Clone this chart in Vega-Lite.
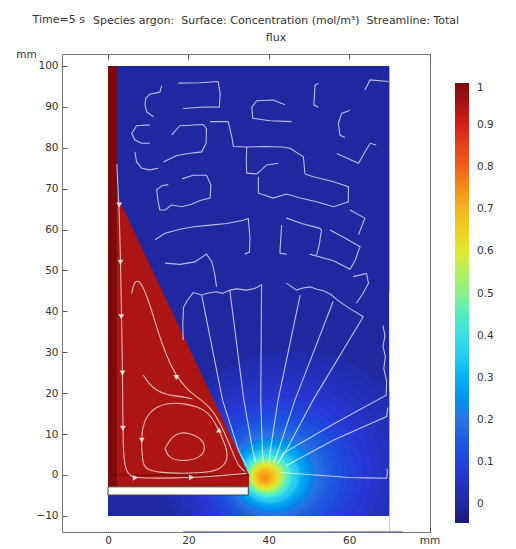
{
"$schema":"https://vega.github.io/schema/vega-lite/v6.json",
"width":368,"height":478,
"autosize":{"type":"none"},
"padding":{"left":62,"top":54,"right":86,"bottom":17},
"background":"white",
"title":{"text":["Species argon:\u00a0 Surface: Concentration (mol/m³)\u00a0 Streamline: Total","flux"],"frame":"group","anchor":"middle","dx":30,"offset":-30,"font":"DejaVu Sans","fontSize":11,"fontWeight":"normal","color":"#333333","lineHeight":17},
"config":{
 "view":{"stroke":"#777777","strokeWidth":1},
 "font":"DejaVu Sans",
 "axis":{"zindex":1,"grid":false,"domain":false,"ticks":true,"tickColor":"#555555","tickSize":5,"tickWidth":1,"offset":-5,"labelFont":"DejaVu Sans","labelFontSize":10.5,"labelColor":"#333333","titleFont":"DejaVu Sans","titleFontSize":10.5,"titleFontWeight":"normal","titleColor":"#333333","labelFlush":false}
},
"resolve":{"axis":{"x":"independent","y":"independent"}},
"datasets":{
 "bg":[{"x0":0,"x1":70,"y0":-10,"y1":100,"c":0}],
 "tri":[{"x":0,"y":73.0,"y2":-2.9,"c":0.945},{"x":35.1,"y":0,"y2":-2.9,"c":0.945}],
 "strip":[{"x0":0,"x1":2.2,"y0":-2.9,"y1":100,"c":1}],
 "rings":[
  {"r":32,"cx":46.0,"cy":1.3,"c":0.02},
  {"r":30,"cx":45.6,"cy":1.2,"c":0.03},
  {"r":28,"cx":45.1,"cy":1.1,"c":0.04},
  {"r":26,"cx":44.6,"cy":1.0,"c":0.05},
  {"r":24,"cx":44.2,"cy":0.8,"c":0.062},
  {"r":22,"cx":43.7,"cy":0.7,"c":0.074},
  {"r":20,"cx":43.3,"cy":0.6,"c":0.088},
  {"r":18.5,"cx":42.9,"cy":0.5,"c":0.1},
  {"r":17,"cx":42.6,"cy":0.4,"c":0.112},
  {"r":15.7,"cx":42.3,"cy":0.34,"c":0.127},
  {"r":14.5,"cx":42.0,"cy":0.27,"c":0.142},
  {"r":13.5,"cx":41.8,"cy":0.21,"c":0.158},
  {"r":12.5,"cx":41.6,"cy":0.15,"c":0.175},
  {"r":11.7,"cx":41.4,"cy":0.1,"c":0.19},
  {"r":11,"cx":41.2,"cy":0.06,"c":0.205},
  {"r":10.2,"cx":41.0,"cy":0.01,"c":0.225},
  {"r":9.5,"cx":40.8,"cy":-0.03,"c":0.245},
  {"r":8.9,"cx":40.7,"cy":-0.07,"c":0.265},
  {"r":8.3,"cx":40.5,"cy":-0.1,"c":0.285},
  {"r":7.7,"cx":40.3,"cy":-0.14,"c":0.31},
  {"r":7.2,"cx":40.2,"cy":-0.17,"c":0.335},
  {"r":6.7,"cx":40.0,"cy":-0.2,"c":0.36},
  {"r":6.2,"cx":39.9,"cy":-0.23,"c":0.39},
  {"r":5.7,"cx":39.8,"cy":-0.26,"c":0.42},
  {"r":5.3,"cx":39.7,"cy":-0.28,"c":0.45},
  {"r":4.9,"cx":39.6,"cy":-0.31,"c":0.48},
  {"r":4.5,"cx":39.5,"cy":-0.33,"c":0.51},
  {"r":4.1,"cx":39.4,"cy":-0.35,"c":0.54},
  {"r":3.8,"cx":39.3,"cy":-0.37,"c":0.57},
  {"r":3.4,"cx":39.3,"cy":-0.4,"c":0.6},
  {"r":3.1,"cx":39.2,"cy":-0.41,"c":0.62},
  {"r":2.8,"cx":39.2,"cy":-0.43,"c":0.64},
  {"r":2.5,"cx":39.1,"cy":-0.45,"c":0.66},
  {"r":2.2,"cx":39.1,"cy":-0.47,"c":0.68},
  {"r":1.9,"cx":39.0,"cy":-0.49,"c":0.7},
  {"r":1.6,"cx":39.0,"cy":-0.5,"c":0.71},
  {"r":1.3,"cx":38.9,"cy":-0.52,"c":0.72},
  {"r":1.0,"cx":38.9,"cy":-0.54,"c":0.73},
  {"r":0.7,"cx":38.8,"cy":-0.56,"c":0.74}
 ],
 "hole":[{"x0":0,"x1":34.9,"y0":-4.9,"y1":-2.9}],
 "mask":[{"x0":0,"x1":70,"y0":-13.8,"y1":-10},{"x0":70,"x1":79.9,"y0":-13.8,"y1":45}],
 "bl":[{"x":0,"x2":35.1,"y":0}],
 "arr":[
  {"x":2.8,"y":66,"d":"down"},{"x":3.1,"y":52,"d":"down"},{"x":3.3,"y":38.7,"d":"down"},{"x":3.6,"y":24.9,"d":"down"},{"x":3.7,"y":11.4,"d":"down"},
  {"x":6.8,"y":-0.7,"d":"right"},{"x":20.8,"y":-0.6,"d":"right"},{"x":8.4,"y":8.5,"d":"down"},{"x":27.6,"y":11,"d":"up"},{"x":17,"y":23.8,"d":"down"}
 ],
 "sl":[
  {"id":"s1","s":1,"k":1,"x":2.2,"y":76},{"id":"s1","s":1,"k":2,"x":2.5,"y":70},{"id":"s1","s":1,"k":3,"x":2.8,"y":64},{"id":"s1","s":1,"k":4,"x":3.0,"y":57},{"id":"s1","s":1,"k":5,"x":3.2,"y":48},{"id":"s1","s":1,"k":6,"x":3.4,"y":38},{"id":"s1","s":1,"k":7,"x":3.6,"y":25},{"id":"s1","s":1,"k":8,"x":3.7,"y":14},{"id":"s1","s":1,"k":9,"x":3.8,"y":6},{"id":"s1","s":1,"k":10,"x":4.2,"y":2},{"id":"s1","s":1,"k":11,"x":5.2,"y":-0.1},{"id":"s1","s":1,"k":12,"x":7,"y":-0.7},{"id":"s1","s":1,"k":13,"x":12,"y":-0.8},{"id":"s1","s":1,"k":14,"x":17,"y":-0.7},{"id":"s1","s":1,"k":15,"x":21,"y":-0.6},{"id":"s1","s":1,"k":16,"x":26,"y":-0.3},{"id":"s1","s":1,"k":17,"x":30,"y":0},{"id":"s1","s":1,"k":18,"x":34.5,"y":0.4},
  {"id":"l1","s":1,"k":1,"x":14.2,"y":6.5},{"id":"l1","s":1,"k":2,"x":15.8,"y":9.4},{"id":"l1","s":1,"k":3,"x":18,"y":10.4},{"id":"l1","s":1,"k":4,"x":20,"y":10.3},{"id":"l1","s":1,"k":5,"x":23.3,"y":9.0},{"id":"l1","s":1,"k":6,"x":24.4,"y":6.5},{"id":"l1","s":1,"k":7,"x":22.9,"y":4.1},{"id":"l1","s":1,"k":8,"x":18.7,"y":3.3},{"id":"l1","s":1,"k":9,"x":15.0,"y":4.1},{"id":"l1","s":1,"k":10,"x":14.2,"y":6.5},
  {"id":"l2","s":1,"k":1,"x":8.4,"y":6.9},{"id":"l2","s":1,"k":2,"x":8.4,"y":11.8},{"id":"l2","s":1,"k":3,"x":10.4,"y":15.9},{"id":"l2","s":1,"k":4,"x":14.6,"y":17.7},{"id":"l2","s":1,"k":5,"x":19.6,"y":17.5},{"id":"l2","s":1,"k":6,"x":24.5,"y":15.9},{"id":"l2","s":1,"k":7,"x":26.6,"y":13.0},{"id":"l2","s":1,"k":8,"x":29.5,"y":6.9},{"id":"l2","s":1,"k":9,"x":29.9,"y":3.7},{"id":"l2","s":1,"k":10,"x":27.9,"y":1.2},{"id":"l2","s":1,"k":11,"x":22.9,"y":0.4},{"id":"l2","s":1,"k":12,"x":14.6,"y":0.4},{"id":"l2","s":1,"k":13,"x":9.6,"y":1.1},{"id":"l2","s":1,"k":14,"x":8.6,"y":2.9},{"id":"l2","s":1,"k":15,"x":8.4,"y":6.9},
  {"id":"l3","s":1,"k":1,"x":5.9,"y":44.4},{"id":"l3","s":1,"k":2,"x":6.4,"y":47},{"id":"l3","s":1,"k":3,"x":7.6,"y":47.8},{"id":"l3","s":1,"k":4,"x":9,"y":45.5},{"id":"l3","s":1,"k":5,"x":10.8,"y":40.5},{"id":"l3","s":1,"k":6,"x":12.6,"y":34.5},{"id":"l3","s":1,"k":7,"x":14.6,"y":29},{"id":"l3","s":1,"k":8,"x":16.8,"y":24.5},{"id":"l3","s":1,"k":9,"x":19.5,"y":21},{"id":"l3","s":1,"k":10,"x":22.8,"y":18.6},{"id":"l3","s":1,"k":11,"x":25.8,"y":16.2},{"id":"l3","s":1,"k":12,"x":28,"y":12.5},{"id":"l3","s":1,"k":13,"x":30,"y":8},{"id":"l3","s":1,"k":14,"x":31.4,"y":4.5},{"id":"l3","s":1,"k":15,"x":32.6,"y":2},{"id":"l3","s":1,"k":16,"x":34,"y":0.9},
  {"id":"l4","s":1,"k":1,"x":8.8,"y":24.4},{"id":"l4","s":1,"k":2,"x":10,"y":22.6},{"id":"l4","s":1,"k":3,"x":11.8,"y":20.8},{"id":"l4","s":1,"k":4,"x":14.5,"y":19.6},{"id":"l4","s":1,"k":5,"x":18,"y":19.2},{"id":"l4","s":1,"k":6,"x":21,"y":18.6},
  {"id":"f1","s":0,"k":1,"x":23.3,"y":44.0},{"id":"f1","s":0,"k":2,"x":28.5,"y":18.3},{"id":"f1","s":0,"k":3,"x":32.5,"y":6},{"id":"f1","s":0,"k":4,"x":34.5,"y":2.2},
  {"id":"f2","s":0,"k":1,"x":30.3,"y":45.2},{"id":"f2","s":0,"k":2,"x":33.8,"y":18.3},{"id":"f2","s":0,"k":3,"x":36,"y":6},{"id":"f2","s":0,"k":4,"x":36.8,"y":3},
  {"id":"f3","s":0,"k":1,"x":38.2,"y":46.5},{"id":"f3","s":0,"k":2,"x":38.0,"y":18.3},{"id":"f3","s":0,"k":3,"x":38.4,"y":6},{"id":"f3","s":0,"k":4,"x":38.6,"y":3},
  {"id":"f4","s":0,"k":1,"x":47.8,"y":44.0},{"id":"f4","s":0,"k":2,"x":42.3,"y":18.3},{"id":"f4","s":0,"k":3,"x":40.4,"y":6},{"id":"f4","s":0,"k":4,"x":40,"y":3},
  {"id":"f5","s":0,"k":1,"x":56.0,"y":42.4},{"id":"f5","s":0,"k":2,"x":46.5,"y":18.3},{"id":"f5","s":0,"k":3,"x":42.4,"y":6},{"id":"f5","s":0,"k":4,"x":41.2,"y":3},
  {"id":"f6","s":0,"k":1,"x":63.5,"y":38.7},{"id":"f6","s":0,"k":2,"x":51.0,"y":18.3},{"id":"f6","s":0,"k":3,"x":44.3,"y":6},{"id":"f6","s":0,"k":4,"x":42.2,"y":2.8},
  {"id":"f7","s":0,"k":1,"x":68.4,"y":36.5},{"id":"f7","s":0,"k":2,"x":68.9,"y":34},{"id":"f7","s":0,"k":3,"x":68.4,"y":31.5},{"id":"f7","s":0,"k":4,"x":69,"y":29},{"id":"f7","s":0,"k":5,"x":68.6,"y":26},{"id":"f7","s":0,"k":6,"x":69.3,"y":23},{"id":"f7","s":0,"k":7,"x":69.2,"y":19.5},{"id":"f7","s":0,"k":8,"x":56,"y":12.4},{"id":"f7","s":0,"k":9,"x":43.6,"y":5.3},{"id":"f7","s":0,"k":10,"x":42.8,"y":3.6},
  {"id":"f8","s":0,"k":1,"x":44.2,"y":2.2},{"id":"f8","s":0,"k":2,"x":56,"y":8.5},{"id":"f8","s":0,"k":3,"x":69.3,"y":14.3},{"id":"f8","s":0,"k":4,"x":69.6,"y":16.5},
  {"id":"f9","s":0,"k":1,"x":42.8,"y":0.6},{"id":"f9","s":0,"k":2,"x":47,"y":0.3},{"id":"f9","s":0,"k":3,"x":51.5,"y":0},{"id":"f9","s":0,"k":4,"x":56,"y":-0.3},{"id":"f9","s":0,"k":5,"x":59.8,"y":-0.6},{"id":"f9","s":0,"k":6,"x":64.5,"y":-0.7},{"id":"f9","s":0,"k":7,"x":69.3,"y":-0.8},{"id":"f9","s":0,"k":8,"x":69.5,"y":0.5},{"id":"f9","s":0,"k":9,"x":69.4,"y":1.6},
  {"id":"c1","s":0,"k":1,"x":18.7,"y":33.0},{"id":"c1","s":0,"k":2,"x":18.6,"y":37},{"id":"c1","s":0,"k":3,"x":18.8,"y":41},{"id":"c1","s":0,"k":4,"x":19.8,"y":42.8},{"id":"c1","s":0,"k":5,"x":21.2,"y":44.6},{"id":"c1","s":0,"k":6,"x":23.3,"y":44.0},{"id":"c1","s":0,"k":7,"x":25,"y":44.5},{"id":"c1","s":0,"k":8,"x":27,"y":44.8},{"id":"c1","s":0,"k":9,"x":28.5,"y":44.4},{"id":"c1","s":0,"k":10,"x":30.3,"y":45.2},{"id":"c1","s":0,"k":11,"x":32,"y":45.5},{"id":"c1","s":0,"k":12,"x":34.5,"y":45.2},{"id":"c1","s":0,"k":13,"x":36.5,"y":45.6},{"id":"c1","s":0,"k":14,"x":38.2,"y":46.5},
  {"id":"c2","s":0,"k":1,"x":44.4,"y":46.9},{"id":"c2","s":0,"k":2,"x":46.9,"y":45.2},{"id":"c2","s":0,"k":3,"x":48.5,"y":45.7},{"id":"c2","s":0,"k":4,"x":50.2,"y":46.0},{"id":"c2","s":0,"k":5,"x":52,"y":45.4},{"id":"c2","s":0,"k":6,"x":53.8,"y":45.0},{"id":"c2","s":0,"k":7,"x":55.6,"y":44.0},{"id":"c2","s":0,"k":8,"x":57,"y":42.8},{"id":"c2","s":0,"k":9,"x":60,"y":40.8},{"id":"c2","s":0,"k":10,"x":63.5,"y":38.7},
  {"id":"n1","s":0,"k":1,"x":14.2,"y":51.8},{"id":"n1","s":0,"k":2,"x":17.9,"y":51.5},{"id":"n1","s":0,"k":3,"x":21.6,"y":52.1},{"id":"n1","s":0,"k":4,"x":24.5,"y":54.0},{"id":"n1","s":0,"k":5,"x":25.8,"y":52.2},{"id":"n1","s":0,"k":6,"x":26.6,"y":48.9},{"id":"n1","s":0,"k":7,"x":27.0,"y":46.0},
  {"id":"u8","s":0,"k":1,"x":11.7,"y":57.5},{"id":"u8","s":0,"k":2,"x":14.2,"y":59.1},{"id":"u8","s":0,"k":3,"x":17.9,"y":60.1},{"id":"u8","s":0,"k":4,"x":21.2,"y":60.7},{"id":"u8","s":0,"k":5,"x":25.4,"y":61.1},{"id":"u8","s":0,"k":6,"x":29.5,"y":61.5},{"id":"u8","s":0,"k":7,"x":33.7,"y":62.3},{"id":"u8","s":0,"k":8,"x":34.9,"y":62.7},{"id":"u8","s":0,"k":9,"x":35.3,"y":58},{"id":"u8","s":0,"k":10,"x":35.2,"y":54.5},{"id":"u8","s":0,"k":11,"x":34,"y":54},
  {"id":"n2","s":0,"k":1,"x":43.2,"y":61.1},{"id":"n2","s":0,"k":2,"x":42.8,"y":55},{"id":"n2","s":0,"k":3,"x":42.8,"y":54.2},{"id":"n2","s":0,"k":4,"x":44.4,"y":54.0},
  {"id":"n3","s":0,"k":1,"x":44.4,"y":62.8},{"id":"n3","s":0,"k":2,"x":48.2,"y":61.5},{"id":"n3","s":0,"k":3,"x":52.7,"y":60.3},{"id":"n3","s":0,"k":4,"x":53.1,"y":59.9},{"id":"n3","s":0,"k":5,"x":52.5,"y":56},{"id":"n3","s":0,"k":6,"x":51.9,"y":53.8},
  {"id":"n4","s":0,"k":1,"x":55.2,"y":59.9},{"id":"n4","s":0,"k":2,"x":58.5,"y":58.2},{"id":"n4","s":0,"k":3,"x":62.7,"y":55.8},{"id":"n4","s":0,"k":4,"x":62.3,"y":54.8},{"id":"n4","s":0,"k":5,"x":61.5,"y":52.5},{"id":"n4","s":0,"k":6,"x":60.2,"y":50.3},{"id":"n4","s":0,"k":7,"x":56.1,"y":52.4},{"id":"n4","s":0,"k":8,"x":50.2,"y":54.0},
  {"id":"n5","s":0,"k":1,"x":60.2,"y":64.8},{"id":"n5","s":0,"k":2,"x":63.9,"y":62.8},{"id":"n5","s":0,"k":3,"x":62.3,"y":58.7},
  {"id":"n6","s":0,"k":1,"x":61,"y":48.5},{"id":"n6","s":0,"k":2,"x":64.3,"y":49.3},{"id":"n6","s":0,"k":3,"x":64.8,"y":46.9},{"id":"n6","s":0,"k":4,"x":63.5,"y":44.5},{"id":"n6","s":0,"k":5,"x":61.8,"y":42.0},
  {"id":"u1","s":0,"k":1,"x":13.4,"y":95.2},{"id":"u1","s":0,"k":2,"x":12.9,"y":93.6},{"id":"u1","s":0,"k":3,"x":10.4,"y":93.1},{"id":"u1","s":0,"k":4,"x":9.4,"y":92.1},{"id":"u1","s":0,"k":5,"x":9.2,"y":90.5},{"id":"u1","s":0,"k":6,"x":9.6,"y":88.8},{"id":"u1","s":0,"k":7,"x":11.3,"y":87.6},
  {"id":"u2","s":0,"k":1,"x":17.5,"y":95.8},{"id":"u2","s":0,"k":2,"x":22.9,"y":95.9},{"id":"u2","s":0,"k":3,"x":27.4,"y":96.2},{"id":"u2","s":0,"k":4,"x":27.9,"y":93.3},{"id":"u2","s":0,"k":5,"x":27.7,"y":90.0},{"id":"u2","s":0,"k":6,"x":22.9,"y":89.9},{"id":"u2","s":0,"k":7,"x":18.7,"y":89.6},
  {"id":"u3","s":0,"k":1,"x":10.4,"y":85.6},{"id":"u3","s":0,"k":2,"x":7.1,"y":85.4},{"id":"u3","s":0,"k":3,"x":5.9,"y":83.5},{"id":"u3","s":0,"k":4,"x":6.7,"y":81.9},{"id":"u3","s":0,"k":5,"x":8.4,"y":81.1},{"id":"u3","s":0,"k":6,"x":10.4,"y":81.1},
  {"id":"u4","s":0,"k":1,"x":15.8,"y":83.1},{"id":"u4","s":0,"k":2,"x":17.9,"y":85.4},{"id":"u4","s":0,"k":3,"x":23.7,"y":85.7},{"id":"u4","s":0,"k":4,"x":24.5,"y":84.6},{"id":"u4","s":0,"k":5,"x":24.4,"y":81.1},{"id":"u4","s":0,"k":6,"x":23.3,"y":79.0},{"id":"u4","s":0,"k":7,"x":20.0,"y":78.6},{"id":"u4","s":0,"k":8,"x":17.1,"y":78.1},{"id":"u4","s":0,"k":9,"x":13.8,"y":76.5},
  {"id":"u5","s":0,"k":1,"x":6.7,"y":79.0},{"id":"u5","s":0,"k":2,"x":7.1,"y":76.6},{"id":"u5","s":0,"k":3,"x":8.4,"y":75.0},{"id":"u5","s":0,"k":4,"x":10.4,"y":74.6},{"id":"u5","s":0,"k":5,"x":12.5,"y":75.0},
  {"id":"u6","s":0,"k":1,"x":18.4,"y":72.4},{"id":"u6","s":0,"k":2,"x":21.2,"y":73.3},{"id":"u6","s":0,"k":3,"x":24.5,"y":73.3},{"id":"u6","s":0,"k":4,"x":25.6,"y":70.9},{"id":"u6","s":0,"k":5,"x":25.4,"y":67.7},{"id":"u6","s":0,"k":6,"x":22.9,"y":67.1},{"id":"u6","s":0,"k":7,"x":20.8,"y":66.2},{"id":"u6","s":0,"k":8,"x":18.3,"y":65.6},{"id":"u6","s":0,"k":9,"x":15.8,"y":66.0},{"id":"u6","s":0,"k":10,"x":14.2,"y":64.8},{"id":"u6","s":0,"k":11,"x":12.9,"y":64.8},{"id":"u6","s":0,"k":12,"x":12.5,"y":66.8},{"id":"u6","s":0,"k":13,"x":12.1,"y":69.7},{"id":"u6","s":0,"k":14,"x":13.4,"y":70.7},{"id":"u6","s":0,"k":15,"x":15.0,"y":71.0},
  {"id":"m1","s":0,"k":1,"x":25.4,"y":86.4},{"id":"m1","s":0,"k":2,"x":29.9,"y":86.4},{"id":"m1","s":0,"k":3,"x":30.8,"y":82.7},{"id":"m1","s":0,"k":4,"x":31.2,"y":80.3},{"id":"m1","s":0,"k":5,"x":34.5,"y":80.2},{"id":"m1","s":0,"k":6,"x":39,"y":80.3},{"id":"m1","s":0,"k":7,"x":43.2,"y":80.2},{"id":"m1","s":0,"k":8,"x":45.3,"y":79.9},{"id":"m1","s":0,"k":9,"x":48.6,"y":77.8},{"id":"m1","s":0,"k":10,"x":49.0,"y":73.6},{"id":"m1","s":0,"k":11,"x":51.1,"y":72.9},{"id":"m1","s":0,"k":12,"x":56.1,"y":71.7},{"id":"m1","s":0,"k":13,"x":59.8,"y":70.5},{"id":"m1","s":0,"k":14,"x":59.8,"y":66.8},{"id":"m1","s":0,"k":15,"x":56.1,"y":65.6},{"id":"m1","s":0,"k":16,"x":51.9,"y":66.8},{"id":"m1","s":0,"k":17,"x":47.8,"y":67.7},{"id":"m1","s":0,"k":18,"x":44.4,"y":68.7},{"id":"m1","s":0,"k":19,"x":41.1,"y":67.7},{"id":"m1","s":0,"k":20,"x":37.4,"y":68.9},{"id":"m1","s":0,"k":21,"x":37.4,"y":72.9},
  {"id":"m2","s":0,"k":1,"x":34.5,"y":80.2},{"id":"m2","s":0,"k":2,"x":34.4,"y":77},{"id":"m2","s":0,"k":3,"x":34.5,"y":73.8},{"id":"m2","s":0,"k":4,"x":37.0,"y":73.6},{"id":"m2","s":0,"k":5,"x":39.5,"y":75.8},{"id":"m2","s":0,"k":6,"x":42.4,"y":76.2},
  {"id":"m3","s":0,"k":1,"x":44.0,"y":90.5},{"id":"m3","s":0,"k":2,"x":41.1,"y":91.7},{"id":"m3","s":0,"k":3,"x":37.0,"y":91.5},{"id":"m3","s":0,"k":4,"x":35.8,"y":90.0},{"id":"m3","s":0,"k":5,"x":36.0,"y":87.2},{"id":"m3","s":0,"k":6,"x":40.3,"y":86.6},{"id":"m3","s":0,"k":7,"x":45.7,"y":86.4},
  {"id":"m4","s":0,"k":1,"x":52.3,"y":95.8},{"id":"m4","s":0,"k":2,"x":51.5,"y":95.3},{"id":"m4","s":0,"k":3,"x":51.2,"y":90.5},{"id":"m4","s":0,"k":4,"x":52.3,"y":89.9},
  {"id":"m5","s":0,"k":1,"x":60.2,"y":89.2},{"id":"m5","s":0,"k":2,"x":58.1,"y":88.4},{"id":"m5","s":0,"k":3,"x":57.3,"y":86.0},{"id":"m5","s":0,"k":4,"x":57.7,"y":83.1},{"id":"m5","s":0,"k":5,"x":58.9,"y":82.5},
  {"id":"m6","s":0,"k":1,"x":63.9,"y":94.1},{"id":"m6","s":0,"k":2,"x":65.2,"y":96.6},{"id":"m6","s":0,"k":3,"x":69.8,"y":96.2},
  {"id":"m7","s":0,"k":1,"x":56.9,"y":78.6},{"id":"m7","s":0,"k":2,"x":62.3,"y":76.2},{"id":"m7","s":0,"k":3,"x":65.2,"y":81.1},{"id":"m7","s":0,"k":4,"x":66.7,"y":80.7}
 ]
},
"layer":[
 {"data":{"name":"bg"},"mark":{"type":"rect"},
  "encoding":{
   "x":{"field":"x0","type":"quantitative","scale":{"domain":[-11.44,80.1],"nice":false,"zero":false},"axis":{"orient":"bottom","values":[0,20,40,60,80],"labelExpr":"datum.value == 80 ? 'mm' : datum.label","labelPadding":3,"title":null}},
   "x2":{"field":"x1"},
   "y":{"field":"y0","type":"quantitative","scale":{"domain":[-13.94,102.93],"nice":false,"zero":false},"axis":{"orient":"left","values":[-10,0,10,20,30,40,50,60,70,80,90,100],"labelPadding":4,"title":"mm","titleAngle":0,"titleX":-41,"titleY":0,"titleAlign":"center","titleBaseline":"middle"}},
   "y2":{"field":"y1"},
   "color":{"field":"c","type":"quantitative","scale":{"domain":[-0.045,0,0.08,0.2,0.33,0.42,0.5,0.6,0.7,0.8,0.9,1],"range":["#1a1a78","#1f28a0","#2837d6","#2b72e3","#33c2f2","#4be8de","#8cf08c","#e0ea30","#f6b522","#f2601c","#d41f1a","#7e0a0a"]},
    "legend":{"title":null,"orient":"none","legendX":393,"legendY":29,"direction":"vertical","gradientLength":440,"gradientThickness":14,"gradientStrokeWidth":0,"values":[0,0.1,0.2,0.3,0.4,0.5,0.6,0.7,0.8,0.9,1],"format":".1~f","labelOffset":8,"labelFontSize":10.5,"labelColor":"#333333","labelFont":"DejaVu Sans","labelBaseline":"middle","padding":0}}
  }},
 {"data":{"name":"rings"},
  "mark":{"type":"point","shape":"M-1,0A1,0.92 0 1,0 1,0A1,0.92 0 1,0 -1,0Z","filled":true,"opacity":1,"strokeWidth":0,"clip":true},
  "encoding":{
   "x":{"field":"cx","type":"quantitative","scale":{"domain":[-11.44,80.1],"nice":false,"zero":false},"axis":null},
   "y":{"field":"cy","type":"quantitative","scale":{"domain":[-13.94,102.93],"nice":false,"zero":false},"axis":null},
   "size":{"field":"r","type":"quantitative","scale":{"type":"pow","exponent":2,"domain":[0,40],"range":[0,103426]},"legend":null},
   "color":{"field":"c","type":"quantitative","scale":{"domain":[-0.045,0,0.08,0.2,0.33,0.42,0.5,0.6,0.7,0.8,0.9,1],"range":["#1a1a78","#1f28a0","#2837d6","#2b72e3","#33c2f2","#4be8de","#8cf08c","#e0ea30","#f6b522","#f2601c","#d41f1a","#7e0a0a"]},"legend":null},
   "order":{"field":"r","sort":"descending"}
  }},
 {"data":{"name":"tri"},"mark":{"type":"area","orient":"vertical","interpolate":"linear"},
  "encoding":{
   "x":{"field":"x","type":"quantitative","scale":{"domain":[-11.44,80.1],"nice":false,"zero":false},"axis":null},
   "y":{"field":"y","type":"quantitative","scale":{"domain":[-13.94,102.93],"nice":false,"zero":false},"axis":null},
   "y2":{"field":"y2"},
   "color":{"field":"c","type":"quantitative","scale":{"domain":[-0.045,0,0.08,0.2,0.33,0.42,0.5,0.6,0.7,0.8,0.9,1],"range":["#1a1a78","#1f28a0","#2837d6","#2b72e3","#33c2f2","#4be8de","#8cf08c","#e0ea30","#f6b522","#f2601c","#d41f1a","#7e0a0a"]},"legend":null}
  }},
 {"data":{"name":"strip"},"mark":{"type":"rect"},
  "encoding":{
   "x":{"field":"x0","type":"quantitative","scale":{"domain":[-11.44,80.1],"nice":false,"zero":false},"axis":null},
   "x2":{"field":"x1"},
   "y":{"field":"y0","type":"quantitative","scale":{"domain":[-13.94,102.93],"nice":false,"zero":false},"axis":null},
   "y2":{"field":"y1"},
   "color":{"field":"c","type":"quantitative","scale":{"domain":[-0.045,0,0.08,0.2,0.33,0.42,0.5,0.6,0.7,0.8,0.9,1],"range":["#1a1a78","#1f28a0","#2837d6","#2b72e3","#33c2f2","#4be8de","#8cf08c","#e0ea30","#f6b522","#f2601c","#d41f1a","#7e0a0a"]},"legend":null}
  }},
 {"data":{"name":"hole"},"mark":{"type":"rect","fill":"white","stroke":"#444444","strokeWidth":1},
  "encoding":{
   "x":{"field":"x0","type":"quantitative","scale":{"domain":[-11.44,80.1],"nice":false,"zero":false},"axis":null},
   "x2":{"field":"x1"},
   "y":{"field":"y0","type":"quantitative","scale":{"domain":[-13.94,102.93],"nice":false,"zero":false},"axis":null},
   "y2":{"field":"y1"}
  }},
 {"data":{"name":"mask"},"mark":{"type":"rect","fill":"white","strokeWidth":0},
  "encoding":{
   "x":{"field":"x0","type":"quantitative","scale":{"domain":[-11.44,80.1],"nice":false,"zero":false},"axis":{"orient":"top","values":[0,20,40,60,80],"labels":false,"title":"Time=5 s","titleX":-30,"titleY":-40,"titleAlign":"left","titleBaseline":"middle","titleFontSize":11}},
   "x2":{"field":"x1"},
   "y":{"field":"y0","type":"quantitative","scale":{"domain":[-13.94,102.93],"nice":false,"zero":false},"axis":null},
   "y2":{"field":"y1"}
  }},
 {"data":{"name":"bl"},"mark":{"type":"rule","color":"#5a0808","strokeWidth":1,"opacity":0.8},
  "encoding":{
   "x":{"field":"x","type":"quantitative","scale":{"domain":[-11.44,80.1],"nice":false,"zero":false},"axis":null},
   "x2":{"field":"x2"},
   "y":{"field":"y","type":"quantitative","scale":{"domain":[-13.94,102.93],"nice":false,"zero":false},"axis":null}
  }},
 {"data":{"name":"sl"},"transform":[{"filter":"datum.s == 1"}],
  "mark":{"type":"line","interpolate":"basis","color":"white","opacity":0.7,"strokeWidth":1.1},
  "encoding":{
   "x":{"field":"x","type":"quantitative","scale":{"domain":[-11.44,80.1],"nice":false,"zero":false},"axis":null},
   "y":{"field":"y","type":"quantitative","scale":{"domain":[-13.94,102.93],"nice":false,"zero":false},"axis":null},
   "detail":{"field":"id"},
   "order":{"field":"k"}
  }},
 {"data":{"name":"sl"},"transform":[{"filter":"datum.s == 0"}],
  "mark":{"type":"line","interpolate":"linear","color":"white","opacity":0.7,"strokeWidth":1.1},
  "encoding":{
   "x":{"field":"x","type":"quantitative","scale":{"domain":[-11.44,80.1],"nice":false,"zero":false},"axis":null},
   "y":{"field":"y","type":"quantitative","scale":{"domain":[-13.94,102.93],"nice":false,"zero":false},"axis":null},
   "detail":{"field":"id"},
   "order":{"field":"k"}
  }},
 {"data":{"name":"arr"},"mark":{"type":"point","filled":true,"opacity":0.8,"color":"white","size":34,"strokeWidth":0},
  "encoding":{
   "x":{"field":"x","type":"quantitative","scale":{"domain":[-11.44,80.1],"nice":false,"zero":false},"axis":null},
   "y":{"field":"y","type":"quantitative","scale":{"domain":[-13.94,102.93],"nice":false,"zero":false},"axis":null},
   "shape":{"field":"d","type":"nominal","scale":{"domain":["down","right","up"],"range":["triangle-down","triangle-right","triangle-up"]},"legend":null}
  }}
]
}
